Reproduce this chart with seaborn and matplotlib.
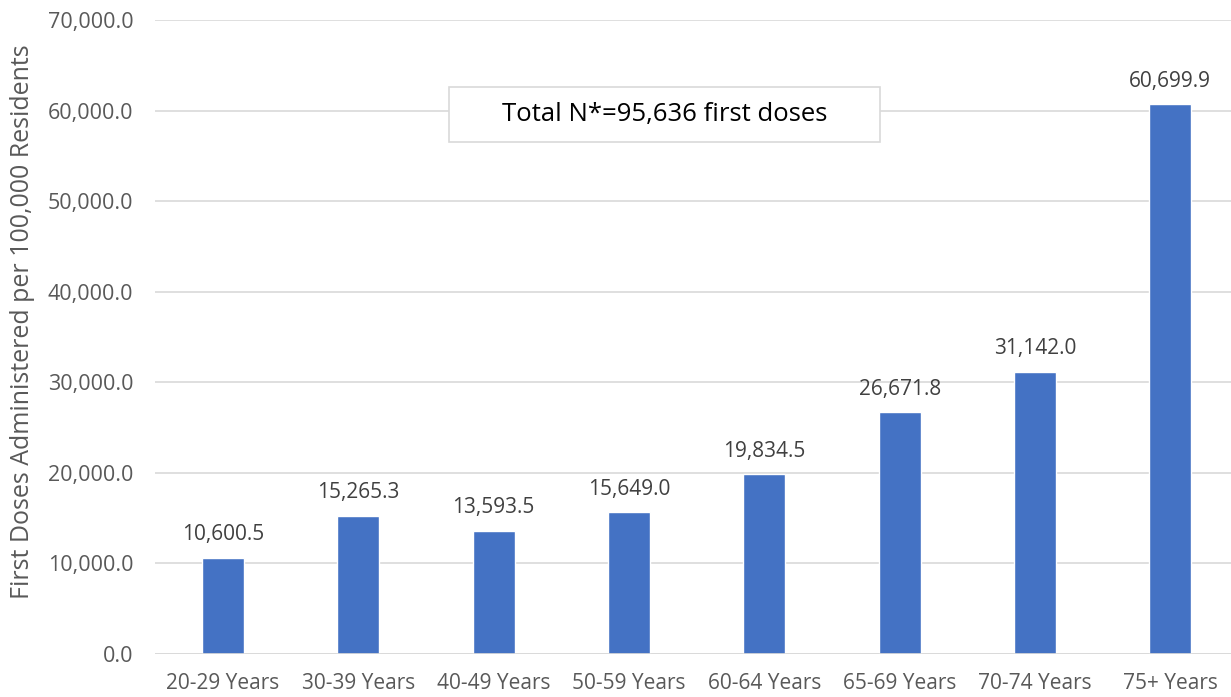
import matplotlib
matplotlib.use("Agg")
import matplotlib.pyplot as plt
from matplotlib.patches import Rectangle
import seaborn as sns
import pandas as pd

age_groups = ["20-29 Years", "30-39 Years", "40-49 Years", "50-59 Years",
              "60-64 Years", "65-69 Years", "70-74 Years", "75+ Years"]
doses_per_100k = [10600.5, 15265.3, 13593.5, 15649.0, 19834.5, 26671.8, 31142.0, 60699.9]
y_ticks = [0, 10000, 20000, 30000, 40000, 50000, 60000, 70000]
total_note = "Total N*=95,636 first doses"
y_title = "First Doses Administered per 100,000 Residents"

sns.set_theme(style="white")
plt.rcParams["font.family"] = ["Open Sans", "DejaVu Sans"]

df = pd.DataFrame({"age": age_groups, "rate": doses_per_100k})

fig = plt.figure(figsize=(12.31, 6.97), dpi=100)
ax = fig.add_axes([0.1262, 0.0617, 0.8795, 0.9096])

sns.barplot(data=df, x="age", y="rate", color="#4472C4", width=0.31,
            saturation=1, ax=ax, zorder=3)

ax.set_ylim(0, 70000)
ax.set_xlim(-0.5, 7.5)
ax.set_yticks(y_ticks)
ax.set_yticklabels([f"{v:,.1f}" for v in y_ticks])
ax.grid(axis="y", color="#D9D9D9", linewidth=1.2, zorder=0)
for s in ax.spines.values():
    s.set_visible(False)
ax.axhline(0, color="#D9D9D9", linewidth=1.2, zorder=4)

ax.tick_params(axis="both", length=0, labelcolor="#595959")
ax.tick_params(axis="y", pad=16, labelsize=15.5)
ax.tick_params(axis="x", pad=14, labelsize=15)
ax.set_xlabel("")
ax.set_ylabel(y_title, fontsize=18, color="#595959")
ax.yaxis.set_label_coords(-0.111, 0.524)

for i, v in enumerate(doses_per_100k):
    ax.annotate(f"{v:,.1f}", (i, v), xytext=(0, 9), textcoords="offset points",
                ha="center", va="bottom", fontsize=15, color="#404040")

ax.add_patch(Rectangle((0.271, 0.8076), 0.398, 0.0867, transform=ax.transAxes,
                       facecolor="white", edgecolor="#D9D9D9", linewidth=1.2, zorder=5))
ax.text(0.47, 0.851, total_note, transform=ax.transAxes, ha="center", va="center",
        fontsize=18.5, color="#000000", zorder=6)

fig.savefig("out.png", dpi=100)
